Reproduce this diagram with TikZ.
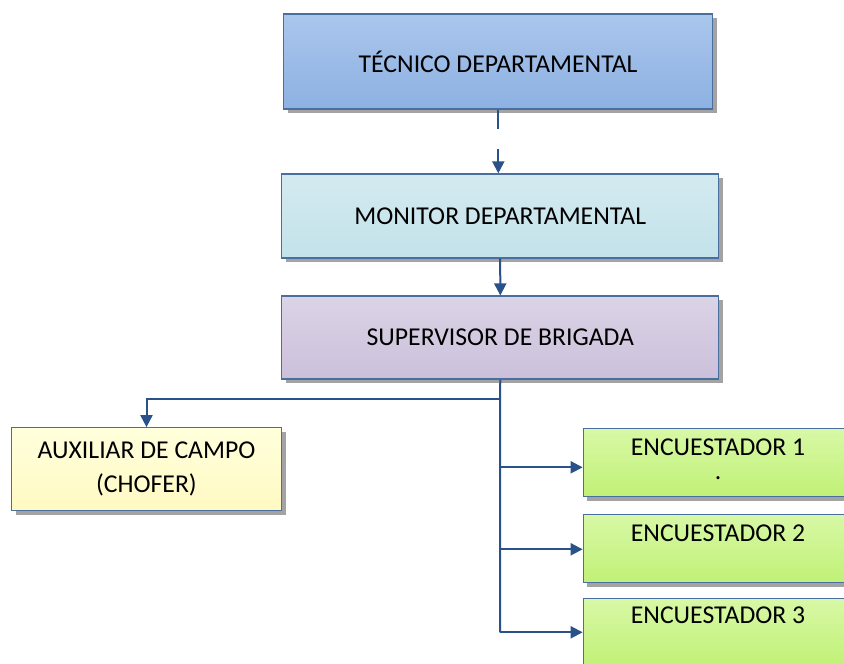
\documentclass[tikz,border=0pt]{standalone}
\usepackage{fontspec}
\setmainfont{Carlito}
\usetikzlibrary{arrows.meta,shadows}
\definecolor{conncol}{HTML}{2A5189}
\definecolor{bordcol}{HTML}{4A6E9E}
\definecolor{shadcol}{HTML}{A3A3A3}
\definecolor{bluetop}{HTML}{AAC6EC}
\definecolor{bluebot}{HTML}{8DB1E2}
\definecolor{cyantop}{HTML}{D4EAF0}
\definecolor{cyanbot}{HTML}{C3E2EA}
\definecolor{purptop}{HTML}{DBD3E6}
\definecolor{purpbot}{HTML}{CBC0DA}
\definecolor{yeltop}{HTML}{FFFFDC}
\definecolor{yelbot}{HTML}{FFF9C2}
\definecolor{grntop}{HTML}{D8F8A6}
\definecolor{grnbot}{HTML}{C0F176}
\tikzset{
  lbl/.style={font=\fontsize{25.7}{34}\selectfont, text=black, align=center},
  box/.style={lbl, draw=bordcol, line width=1.3pt, rectangle, inner sep=0pt,
    general shadow={fill=shadcol, shadow xshift=4pt, shadow yshift=-4pt}},
  conn/.style={draw=conncol, line width=2pt},
  arr/.style={conn, -{Triangle[length=12pt,width=12pt]}},
}
\begin{document}
\begin{tikzpicture}[x=1pt,y=-1pt]
\useasboundingbox (0,0) rectangle (844,664);
\clip (0,0) rectangle (844,664);
\node[box, top color=bluetop, bottom color=bluebot, minimum width=429pt, minimum height=95pt] (tec) at (498.1,61.4) {TÉCNICO DEPARTAMENTAL};
\node[box, top color=cyantop, bottom color=cyanbot, minimum width=437pt, minimum height=84pt] (mon) at (500.2,216) {MONITOR DEPARTAMENTAL};
\node[box, top color=purptop, bottom color=purpbot, minimum width=437pt, minimum height=83pt] (sup) at (500.3,337.6) {SUPERVISOR DE BRIGADA};
\node[box, top color=yeltop, bottom color=yelbot, minimum width=270pt, minimum height=83pt] (aux) at (146.5,469.3) {AUXILIAR DE CAMPO\\(CHOFER)};
\node[box, top color=grntop, bottom color=grnbot, minimum width=270pt, minimum height=68pt] (e1) at (718.3,462.5) {};
\node[box, top color=grntop, bottom color=grnbot, minimum width=270pt, minimum height=68pt] (e2) at (718.3,548.5) {};
\node[box, top color=grntop, bottom color=grnbot, minimum width=270pt, minimum height=68pt] (e3) at (718.3,632.5) {};
\node[lbl] (t1) at (718,447) {ENCUESTADOR 1};
\node[lbl] (d1) at (718,478) {.};
\node[lbl] (t2) at (718,533) {ENCUESTADOR 2};
\node[lbl] (t3) at (718,615) {ENCUESTADOR 3};
% connectors
\coordinate (a1) at (498.3,129);
\coordinate (a2) at (498.3,149);
\draw[conn] (tec.south -| a1) -- (a1);
\draw[arr] (a2) -- (a2 |- mon.north);
\draw[arr] (mon.south) -- (sup.north);
\coordinate (j) at (500,398.7);
\coordinate (b1) at (500,467.3);
\coordinate (b2) at (500,549.3);
\coordinate (b3) at (500,632.3);
\draw[conn] (sup.south) -- (j) -- (b3);
\draw[arr] (j) -| (aux.north);
\draw[arr] (b1) -- (b1 -| e1.west);
\draw[arr] (b2) -- (b2 -| e2.west);
\draw[arr] (b3) -- (b3 -| e3.west);
\end{tikzpicture}
\end{document}
